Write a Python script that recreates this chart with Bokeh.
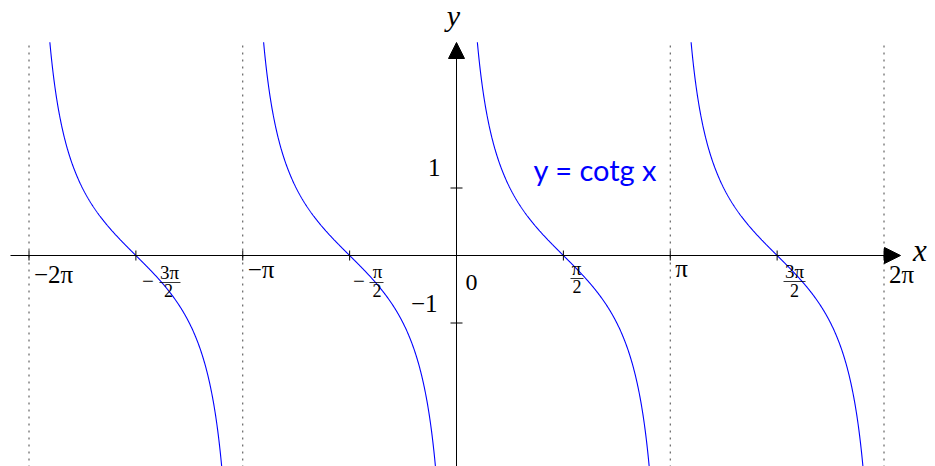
import numpy as np
from bokeh.plotting import figure
from bokeh.models import Range1d, Arrow, NormalHead, Label
from bokeh.core.properties import value
from bokeh.embed import file_html
from bokeh.resources import INLINE

PI = np.pi

# ---- data -------------------------------------------------------------
# cot x has one branch between consecutive multiples of pi
branch_starts = [-2, -1, 0, 1]          # left end of each branch, in units of pi
asymptotes = [-2, -1, 1, 2]             # dotted vertical asymptotes, in units of pi
y_clip = 3.16                           # curve drawn while |cot x| <= y_clip

x_tick_vals = [-2, -1.5, -1, -0.5, 0.5, 1, 1.5, 2]   # in units of pi
y_tick_vals = [-1, 1]

x_label_vals = [-2, -1, 1, 2]
x_label_text = ["−2π", "−π", "π", "2π"]

frac_vals = [-1.5, -0.5, 0.5, 1.5]
frac_sign = ["−", "−", "", ""]
frac_num = ["3π", "π", "π", "3π"]
frac_den = ["2", "2", "2", "2"]

y_label_vals = [1, -1]
y_label_text = ["1", "−1"]

# ---- layout (pixels) ----------------------------------------------------
W, H = 935, 466
OX, OY = 456, 255          # origin on the canvas
PX_PI = 213.75             # pixels per pi on x
PX_UNIT = 67.5             # pixels per unit on y
DROP = 0.38                # svg text sits this many em below the requested baseline


def dx(px):
    return px * PI / PX_PI


def dy(px):
    return px / PX_UNIT


def down(px, size):
    """screen y offset (downwards) for a baseline px below the anchor"""
    return [v - DROP * size for v in px] if isinstance(px, list) else px - DROP * size


SERIF = value("Liberation Serif")

p = figure(width=W, height=H, output_backend="svg", toolbar_location=None,
           x_range=Range1d(dx(-OX), dx(W - OX)), y_range=Range1d(dy(OY - H), dy(OY)),
           x_axis_location=None, y_axis_location=None, min_border=0,
           background_fill_color="white", border_fill_color="white")
p.outline_line_color = None
p.xgrid.visible = False
p.ygrid.visible = False

# dotted asymptotes
for a in asymptotes:
    p.line([a * PI, a * PI], [dy(OY - 45), dy(OY - H) - 0.1],
           line_color="#444444", line_width=1, line_dash="2 5")

# branches of y = cot x
off = np.arctan(1.0 / y_clip)
for k in branch_starts:
    xs = np.linspace(k * PI + off, (k + 1) * PI - off, 500)
    ys = np.cos(xs) / np.sin(xs)
    p.line(xs, ys, line_color="#0000ff", line_width=1.1)

# axes with arrow heads
p.add_layout(Arrow(x_start=dx(10 - OX), y_start=0, x_end=dx(900 - OX), y_end=0,
                   line_color="black", line_width=1,
                   end=NormalHead(size=16, fill_color="black", line_color="black", line_width=1)))
p.add_layout(Arrow(x_start=0, y_start=dy(OY - H) - 0.1, x_end=0, y_end=dy(OY - 42),
                   line_color="black", line_width=1,
                   end=NormalHead(size=16, fill_color="black", line_color="black", line_width=1)))

# tick marks
p.scatter([v * PI for v in x_tick_vals], [0] * len(x_tick_vals), marker="dash",
          size=10, angle=PI / 2, line_color="black", line_width=1)
p.scatter([0] * len(y_tick_vals), y_tick_vals, marker="dash",
          size=12, line_color="black", line_width=1)

# plain x tick labels (left edge offset, baseline offset)
p.text(x=[v * PI for v in x_label_vals], y=[0] * len(x_label_vals), text=x_label_text,
       x_offset=[5, 5, 5, 5], y_offset=down([28, 23, 22, 28], 25),
       text_align="left", text_baseline="alphabetic",
       text_font=SERIF, text_font_size="25px", text_color="black")

# fractional x tick labels
minus_dx = [12.1, 9.4, 0, 0]
num_dx = [33.6, 27.9, 13.1, 17.4]
num_dy = [24, 23, 20, 23]
bar_x = [(23.6, 44.6), (19.9, 33.9), (7.1, 20.1), (6.4, 28.4)]
bar_dy = [27, 27, 23, 26]
den_dx = [32.6, 27.4, 13.6, 17.4]
den_dy = [42, 42, 38, 42]

fx = [v * PI for v in frac_vals]
p.text(x=fx, y=[0] * 4, text=frac_sign, x_offset=minus_dx, y_offset=down([33] * 4, 21),
       text_align="center", text_baseline="alphabetic",
       text_font=SERIF, text_font_size="21px", text_color="black")
p.text(x=fx, y=[0] * 4, text=frac_num, x_offset=num_dx, y_offset=down(num_dy, 19),
       text_align="center", text_baseline="alphabetic",
       text_font=SERIF, text_font_size="19px", text_color="black")
p.text(x=fx, y=[0] * 4, text=frac_den, x_offset=den_dx, y_offset=down(den_dy, 18),
       text_align="center", text_baseline="alphabetic",
       text_font=SERIF, text_font_size="18px", text_color="black")
p.segment(x0=[x + dx(b[0]) for x, b in zip(fx, bar_x)], y0=[-dy(d) for d in bar_dy],
          x1=[x + dx(b[1]) for x, b in zip(fx, bar_x)], y1=[-dy(d) for d in bar_dy],
          line_color="black", line_width=0.8)

# y tick labels and origin
p.text(x=[0, 0], y=y_label_vals, text=y_label_text, x_offset=[-16, -19],
       y_offset=down([-11, -10], 25),
       text_align="right", text_baseline="alphabetic",
       text_font=SERIF, text_font_size="25px", text_color="black")
p.text(x=[0], y=[0], text=["0"], x_offset=[15], y_offset=[down(36, 24)],
       text_align="center", text_baseline="alphabetic",
       text_font=SERIF, text_font_size="24px", text_color="black")

# axis names (Label offsets point upwards)
p.add_layout(Label(x=2 * PI, y=0, text="x", x_offset=29, y_offset=-7 + DROP * 31,
                   text_align="left", text_baseline="alphabetic",
                   text_font="Liberation Serif", text_font_style="italic",
                   text_font_size="31px", text_color="black"))
p.add_layout(Label(x=0, y=dy(OY - 42), text="y", x_offset=-3, y_offset=16 + DROP * 30,
                   text_align="center", text_baseline="alphabetic",
                   text_font="Liberation Serif", text_font_style="italic",
                   text_font_size="30px", text_color="black"))

# function name
p.add_layout(Label(x=dx(533 - OX), y=dy(OY - 180), text="y = cotg x", y_offset=DROP * 29,
                   text_align="left", text_baseline="alphabetic",
                   text_font="Lato", text_font_size="29px", text_color="#0000ff"))

open("out.html", "w").write(file_html(p, INLINE))
